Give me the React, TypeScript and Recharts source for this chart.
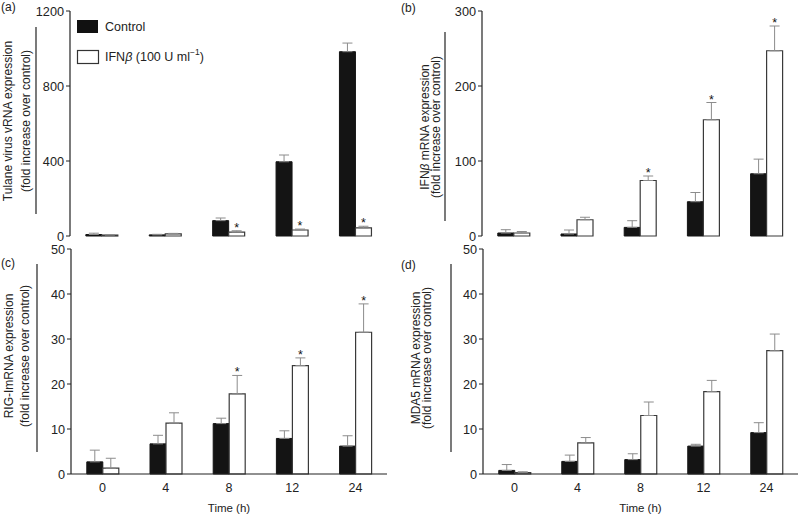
import React from 'react';
import { BarChart, Bar, XAxis, YAxis, ErrorBar, LabelList } from 'recharts';

const FONT = '"Liberation Sans", Arial, Helvetica, sans-serif';
const INK = '#222';

// time points (h)
const TIMES = ['0', '4', '8', '12', '24'];

// (a) Tulane virus vRNA
const vrnaControl = [8, 6, 82, 396, 983];
const vrnaControlErr = [7, 3, 14, 36, 46];
const vrnaIfn = [5, 11, 21, 32, 43];
const vrnaIfnErr = [3, 3, 7, 5, 9];
const vrnaStars = [false, false, true, true, true];

// (b) IFNβ mRNA
const ifnbControl = [4, 2.7, 11.5, 45.7, 83];
const ifnbControlErr = [4.4, 5.3, 8.9, 12.3, 19.5];
const ifnbIfn = [4, 21.7, 74, 155, 247];
const ifnbIfnErr = [2, 3.3, 6, 23, 33];
const ifnbStars = [false, false, true, true, true];

// (c) RIG-I mRNA
const rigControl = [2.7, 6.7, 11.2, 7.9, 6.2];
const rigControlErr = [2.6, 1.9, 1.2, 1.7, 2.3];
const rigIfn = [1.3, 11.3, 17.8, 24.1, 31.5];
const rigIfnErr = [2.2, 2.3, 4.1, 1.7, 6.3];
const rigStars = [false, false, true, true, true];

// (d) MDA5 mRNA
const mdaControl = [0.8, 2.8, 3.2, 6.2, 9.2];
const mdaControlErr = [1.3, 1.4, 1.3, 0.4, 2.2];
const mdaIfn = [0.3, 6.9, 13, 18.3, 27.4];
const mdaIfnErr = [0.2, 1.2, 3, 2.5, 3.7];
const mdaStars = [false, false, false, false, false];

const buildRows = (ctrl: number[], ctrlErr: number[], ifn: number[], ifnErr: number[], stars: boolean[]) =>
    TIMES.map((time, i) => ({
        time,
        control: ctrl[i],
        ifn: ifn[i],
        ctrlErr: [0, ctrlErr[i]],
        ifnErr: [0, ifnErr[i]],
        ifnErrVal: ifnErr[i],
        star: stars[i],
    }));

type Row = ReturnType<typeof buildRows>[number];

const Rotated: React.FC<{ x: number; y: number; children: React.ReactNode }> = ({ x, y, children }) => (
    <text
        x={x}
        y={y}
        transform={`rotate(-90 ${x} ${y})`}
        textAnchor="middle"
        dominantBaseline="central"
        fontSize={12}
        fill={INK}
        fontFamily={FONT}
    >
        {children}
    </text>
);

interface DecorProps {
    letter: string;
    letterY: number;
    title1: React.ReactNode;
    title2: string;
    x1: number;
    x2: number;
    cy: number;
    lineX: number;
    lineY1: number;
    lineY2: number;
    legend?: boolean;
}

// panel letter, two-line y title, side rule and (optionally) legend
const PanelDecor: React.FC<DecorProps> = (p) => (
    <g>
        <text x={1} y={p.letterY} fontSize={12} fill={INK} fontFamily={FONT} dominantBaseline="central">
            {p.letter}
        </text>
        <Rotated x={p.x1} y={p.cy}>{p.title1}</Rotated>
        <Rotated x={p.x2} y={p.cy}>{p.title2}</Rotated>
        <line x1={p.lineX} x2={p.lineX} y1={p.lineY1} y2={p.lineY2} stroke={INK} strokeWidth={1.2} />
        {p.legend && (
            <g fontFamily={FONT} fontSize={12.5} fill={INK}>
                <rect x={77} y={20} width={21} height={13} fill="#111" />
                <text x={105} y={27} dominantBaseline="central">Control</text>
                <rect x={77.5} y={50.5} width={21} height={13} fill="#fff" stroke="#333" strokeWidth={1.2} />
                <text x={105} y={57} dominantBaseline="central">
                    IFN<tspan fontStyle="italic">β</tspan> (100 U ml
                    <tspan fontSize={8.5} dy={-5}>−1</tspan>
                    <tspan dy={5}>)</tspan>
                </text>
            </g>
        )}
    </g>
);

interface PanelProps {
    rows: Row[];
    left: number;
    top: number;
    height: number;
    axisWidth: number;
    rightPad: number;
    topPad: number;
    bottomPad: number;
    showTime: boolean;
    domainMax: number;
    ticks: number[];
    decor: DecorProps;
}

const Star = (props: any, rows: Row[]) => {
    const vb = props.viewBox ?? props;
    const x = vb.x ?? props.x;
    const y = vb.y ?? props.y;
    const w = vb.width ?? props.width;
    const h = vb.height ?? props.height;
    const row = rows[props.index];
    if (!row || !row.star) return null;
    const errTop = y - (h * row.ifnErrVal) / row.ifn;
    return (
        <text x={x + w / 2} y={errTop + 1} textAnchor="middle" fontSize={12.5} fill="#111" fontFamily={FONT}>
            *
        </text>
    );
};

const Panel: React.FC<PanelProps> = (p) => (
    <div style={{ position: 'absolute', left: p.left, top: p.top }}>
        <BarChart
            width={400}
            height={p.height}
            data={p.rows}
            margin={{ top: p.topPad, right: p.rightPad, bottom: p.bottomPad, left: 0 }}
            barCategoryGap="25%"
            barGap={0}
        >
            {p.showTime ? (
                <XAxis
                    dataKey="time"
                    height={42}
                    tickLine={false}
                    tickSize={6}
                    tickMargin={3}
                    axisLine={{ stroke: INK, strokeWidth: 1.2 }}
                    tick={{ fontSize: 12.5, fill: INK, fontFamily: FONT }}
                    label={(lp: any) => {
                        const vb = lp.viewBox;
                        return (
                            <text
                                x={vb.x + vb.width / 2}
                                y={vb.y + 34}
                                textAnchor="middle"
                                dominantBaseline="central"
                                fontSize={11.5}
                                fill={INK}
                                fontFamily={FONT}
                            >
                                Time (h)
                            </text>
                        );
                    }}
                />
            ) : (
                <XAxis dataKey="time" height={0} tick={false} tickLine={false} axisLine={{ stroke: INK, strokeWidth: 1.2 }} />
            )}
            <YAxis
                width={p.axisWidth}
                domain={[0, p.domainMax]}
                ticks={p.ticks}
                interval={0}
                tickSize={4}
                tickMargin={2}
                axisLine={{ stroke: INK, strokeWidth: 1.2 }}
                tickLine={{ stroke: INK, strokeWidth: 1 }}
                tick={{ fontSize: 12.7, fill: INK, fontFamily: FONT }}
                label={<PanelDecor {...p.decor} />}
            />
            <Bar dataKey="control" fill="#141414" stroke="#141414" isAnimationActive={false}>
                <ErrorBar dataKey="ctrlErr" direction="y" width={5} stroke="#8c8c8c" strokeWidth={1} />
            </Bar>
            <Bar dataKey="ifn" fill="#fff" stroke="#3a3a3a" strokeWidth={1.2} isAnimationActive={false}>
                <ErrorBar dataKey="ifnErr" direction="y" width={5} stroke="#8c8c8c" strokeWidth={1} />
                <LabelList dataKey="ifn" content={(lp: any) => Star(lp, p.rows)} />
            </Bar>
        </BarChart>
    </div>
);

const rowsA = buildRows(vrnaControl, vrnaControlErr, vrnaIfn, vrnaIfnErr, vrnaStars);
const rowsB = buildRows(ifnbControl, ifnbControlErr, ifnbIfn, ifnbIfnErr, ifnbStars);
const rowsC = buildRows(rigControl, rigControlErr, rigIfn, rigIfnErr, rigStars);
const rowsD = buildRows(mdaControl, mdaControlErr, mdaIfn, mdaIfnErr, mdaStars);

export default function App() {
    return (
        <div style={{ position: 'absolute', left: 0, top: 0, width: 800, height: 516, background: '#fff', overflow: 'hidden' }}>
            <Panel
                rows={rowsA}
                left={0}
                top={0}
                height={250}
                axisWidth={70}
                rightPad={13}
                topPad={11}
                bottomPad={14}
                showTime={false}
                domainMax={1200}
                ticks={[0, 400, 800, 1200]}
                decor={{
                    letter: '(a)', letterY: 7,
                    title1: 'Tulane virus vRNA expression', title2: '(fold increase over control)',
                    x1: 7.5, x2: 25.5, cy: 121, lineX: 36, lineY1: 27, lineY2: 214, legend: true,
                }}
            />
            <Panel
                rows={rowsB}
                left={400}
                top={0}
                height={250}
                axisWidth={82}
                rightPad={2}
                topPad={11}
                bottomPad={14}
                showTime={false}
                domainMax={300}
                ticks={[0, 100, 200, 300]}
                decor={{
                    letter: '(b)', letterY: 8,
                    title1: <>IFN<tspan fontStyle="italic">β</tspan> mRNA expression</>,
                    title2: '(fold increase over control)',
                    x1: 25, x2: 36, cy: 127, lineX: 45, lineY1: 32, lineY2: 221,
                }}
            />
            <Panel
                rows={rowsC}
                left={0}
                top={240}
                height={276}
                axisWidth={71}
                rightPad={13}
                topPad={9}
                bottomPad={0}
                showTime={true}
                domainMax={50}
                ticks={[0, 10, 20, 30, 40, 50]}
                decor={{
                    letter: '(c)', letterY: 23,
                    title1: 'RIG-ImRNA expression', title2: '(fold increase over control)',
                    x1: 8.5, x2: 24.5, cy: 116, lineX: 37, lineY1: 24, lineY2: 212,
                }}
            />
            <Panel
                rows={rowsD}
                left={400}
                top={240}
                height={276}
                axisWidth={83}
                rightPad={2}
                topPad={9}
                bottomPad={0}
                showTime={true}
                domainMax={50}
                ticks={[0, 10, 20, 30, 40, 50]}
                decor={{
                    letter: '(d)', letterY: 25,
                    title1: 'MDA5 mRNA expression', title2: '(fold increase over control)',
                    x1: 16, x2: 27, cy: 118, lineX: 51, lineY1: 24, lineY2: 212,
                }}
            />
        </div>
    );
}
